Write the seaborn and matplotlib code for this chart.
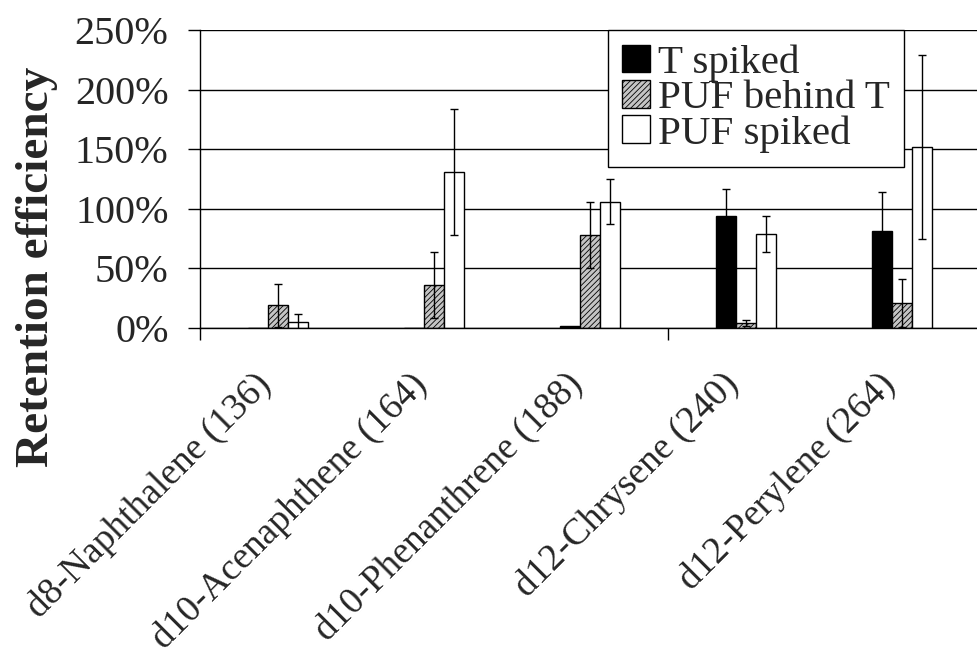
import numpy as np
import pandas as pd
import seaborn as sns
import matplotlib.pyplot as plt
from matplotlib.patches import Patch
from matplotlib.ticker import FuncFormatter

# ============================================================================
# DATA (values in %)
# ============================================================================
compounds = ['d8-Naphthalene (136)', 'd10-Acenaphthene (164)', 'd10-Phenanthrene (188)',
             'd12-Chrysene (240)', 'd12-Perylene (264)']
series = ['T spiked', 'PUF behind T', 'PUF spiked']

t_spiked = [0, 0, 2, 94, 81]
t_spiked_err = [0, 0, 0, 23, 33]
puf_behind = [19, 36, 78, 4, 21]
puf_behind_err = [18, 28, 28, 2.5, 20]
puf_spiked = [5, 131, 106, 79, 152]
puf_spiked_err = [7, 53, 19, 15, 77]

y_ticks = [0, 50, 100, 150, 200, 250]

values = [t_spiked, puf_behind, puf_spiked]
errors = [t_spiked_err, puf_behind_err, puf_spiked_err]
colors = ['black', '#c4c4c4', 'white']
hatches = [None, '//////', None]

df = pd.DataFrame({
    'compound': np.tile(compounds, len(series)),
    'series': np.repeat(series, len(compounds)),
    'value': np.concatenate(values),
})

# ============================================================================
# STYLE
# ============================================================================
sns.set_style('white')
plt.rcParams['font.family'] = ['Liberation Serif', 'DejaVu Serif']
plt.rcParams['hatch.linewidth'] = 0.6

fig = plt.figure(figsize=(9.78, 6.58), dpi=100)
ax = fig.add_axes([200 / 978, 330 / 658, 780 / 978, 298 / 658])

sns.barplot(data=df, x='compound', y='value', hue='series',
            order=compounds, hue_order=series,
            palette=colors, saturation=1,
            width=0.385, edgecolor='black', linewidth=1,
            errorbar=None, legend=False, ax=ax)

# hatch the "PUF behind T" bars and add error bars
bar_containers = list(ax.containers)
for i, container in enumerate(bar_containers):
    for bar, v, e in zip(container, values[i], errors[i]):
        if bar is None:
            continue
        if hatches[i]:
            bar.set_hatch(hatches[i])
        if e > 0:
            x = bar.get_x() + bar.get_width() / 2
            ax.errorbar(x, v, yerr=e, fmt='none', ecolor='black',
                        elinewidth=1, capsize=3.2, capthick=1)

ax.set_xlim(-0.5, 4.5)
ax.set_ylim(0, 250)
ax.set_yticks(y_ticks)
ax.yaxis.set_major_formatter(FuncFormatter(lambda v, p: f'{v:.0f}%'))
ax.tick_params(axis='y', left=True, direction='out', length=8.6, width=1,
               pad=14, labelsize=29, color='black')

ax.set_xlabel('')
ax.tick_params(axis='x', which='major', bottom=False, length=0, pad=28, labelsize=27)
plt.setp(ax.get_xticklabels(), rotation=45, ha='right')
ax.set_xticks([-0.5, 2.5], minor=True)
ax.tick_params(axis='x', which='minor', bottom=True, direction='out',
               length=8.6, width=1, color='black')

ax.yaxis.grid(True, color='black', linewidth=1)
ax.xaxis.grid(False)
ax.set_axisbelow(True)
for side in ['top', 'right']:
    ax.spines[side].set_visible(False)
for side in ['left', 'bottom']:
    ax.spines[side].set_color('black')
    ax.spines[side].set_linewidth(1)

ax.set_ylabel('Retention efficiency', fontsize=34, fontweight='bold')
ax.yaxis.set_label_coords(-0.209, 0.205)
ax.yaxis.label.set_verticalalignment('center')

handles = [Patch(facecolor=c, edgecolor='black', hatch=h, linewidth=1)
           for c, h in zip(colors, hatches)]
leg = ax.legend(handles=handles, labels=series, loc='upper right',
                bbox_to_anchor=(0.9026, 1.0), borderaxespad=0, fontsize=29.5,
                frameon=True, fancybox=False, edgecolor='black', framealpha=1,
                handlelength=0.67, handleheight=0.67, handletextpad=0.2,
                labelspacing=-0.05, borderpad=0.35)
leg.get_frame().set_linewidth(1)

plt.savefig('out.png', dpi=100)
